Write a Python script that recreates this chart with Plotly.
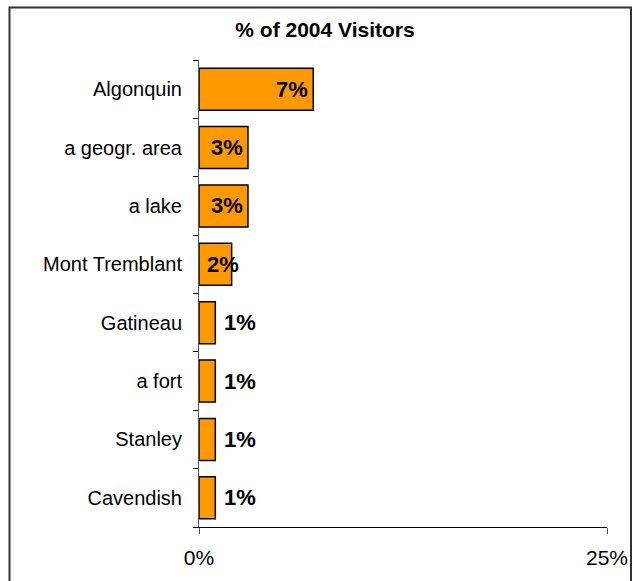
import plotly.graph_objects as go

# Share of 2004 visitors by destination mentioned
places = ["Algonquin", "a geogr. area", "a lake", "Mont Tremblant",
          "Gatineau", "a fort", "Stanley", "Cavendish"]
share_pct = [7, 3, 3, 2, 1, 1, 1, 1]
x_ticks = [0, 25]
x_tick_labels = ["0%", "25%"]

FONT = "Liberation Sans, Arial, sans-serif"
ORANGE = "#FF9900"

# plot-area geometry in pixels (used to decide where value labels fit)
W, H = 634, 581
ML, MR, MT, MB = 199, 27, 60, 54
plot_w = W - ML - MR
px_per_unit = plot_w / (x_ticks[-1] - x_ticks[0])
label_w = 34  # approx width of a bold "7%" label

fig = go.Figure(go.Bar(
    y=places,
    x=share_pct,
    orientation="h",
    marker=dict(color=ORANGE, line=dict(color="black", width=1.5)),
    width=0.72,
    hoverinfo="skip",
))

# value labels: inside the bar end when they fit, hugging the base when the
# bar is nearly wide enough, otherwise just past the bar end
for name, v in zip(places, share_pct):
    bar_px = v * px_per_unit
    if bar_px >= label_w + 12:
        pos = dict(x=v, xanchor="right", xshift=-3)
    elif bar_px >= label_w * 0.9:
        pos = dict(x=0, xanchor="left", xshift=6)
    else:
        pos = dict(x=v, xanchor="left", xshift=7)
    fig.add_annotation(
        y=name, yref="y", xref="x", text=f"<b>{v}%</b>", showarrow=False,
        font=dict(family=FONT, size=22, color="black"), **pos,
    )

fig.update_layout(
    template="none",
    width=W, height=H,
    margin=dict(l=ML, r=MR, t=MT, b=MB),
    paper_bgcolor="white", plot_bgcolor="white",
    showlegend=False,
    font=dict(family=FONT, color="black"),
    title=dict(
        text="<b>% of 2004 Visitors</b>",
        x=325 / W, xref="container", xanchor="center",
        y=1 - 30 / H, yref="container", yanchor="middle",
        font=dict(family=FONT, size=21, color="black"),
    ),
    xaxis=dict(
        automargin=False,
        range=[x_ticks[0], x_ticks[-1]],
        tickvals=x_ticks, ticktext=x_tick_labels,
        ticks="outside", ticklen=6, tickcolor="#555", tickwidth=1,
        showline=True, linecolor="black", linewidth=1,
        showgrid=False, zeroline=False,
        tickfont=dict(family=FONT, size=21, color="black"),
        ticklabelstandoff=6,
    ),
    yaxis=dict(
        automargin=False,
        categoryorder="array", categoryarray=places[::-1],
        ticks="outside", ticklen=5, tickcolor="black", tickwidth=1,
        tickson="boundaries",
        showline=True, linecolor="#555", linewidth=1,
        showgrid=False, zeroline=False,
        tickfont=dict(family=FONT, size=20, color="black"),
        ticklabelstandoff=12,
    ),
    shapes=[
        # chart frame: left, top and right edges
        dict(type="path", xref="paper", yref="paper",
             path=f"M {(9.5 - ML) / plot_w},{-0.2} "
                  f"L {(9.5 - ML) / plot_w},{1 + (MT - 7.5) / (H - MT - MB)} "
                  f"L {(631 - ML) / plot_w},{1 + (MT - 7.5) / (H - MT - MB)} "
                  f"L {(631 - ML) / plot_w},{-0.2}",
             line=dict(color="#333", width=2)),
    ],
)

fig.write_html("out.html")
